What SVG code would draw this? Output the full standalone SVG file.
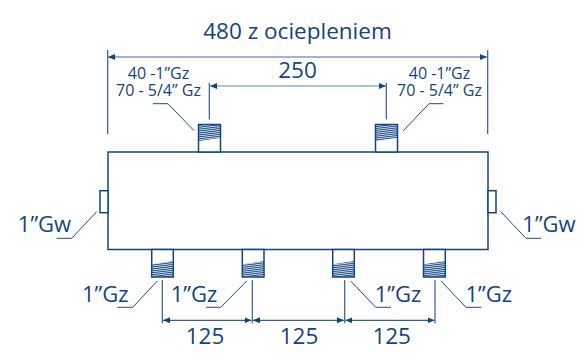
<svg xmlns="http://www.w3.org/2000/svg" width="588" height="360" viewBox="0 0 588 360">
<defs>
<marker id="a" markerUnits="userSpaceOnUse" markerWidth="8" markerHeight="6" refX="7" refY="3" orient="auto-start-reverse"><path d="M0 0L7 3L0 6Z" fill="#15437f"/></marker>
<pattern id="th" patternUnits="userSpaceOnUse" width="8" height="1.9" patternTransform="rotate(-7)"><rect width="8" height="1.15" fill="#1d4c88"/></pattern>
</defs>
<style>
text{font-family:"Open Sans","Noto Sans",sans-serif;fill:#15437f;text-anchor:middle}
.big{font-size:22.5px}.mid{font-size:22px}.sm{font-size:16px}
.l{fill:none;stroke:#1d4c88;stroke-width:1}
.b{fill:#fff;stroke:#15437f;stroke-width:1.5}
.e{stroke:#2f5c94;stroke-width:1.2;fill:none}
</style>
<g id="connectors">
<path class="e" d="M107.7 50V134M487.7 50V134"/>
<path d="M108 57H487" stroke="#7d9abf" stroke-width="1.6" fill="none" marker-start="url(#a)" marker-end="url(#a)"/>
<path class="e" d="M209.3 83V119.5M386.3 83V119.5"/>
<path d="M210 86H386" stroke="#5f83ae" stroke-width="1.2" fill="none" marker-start="url(#a)" marker-end="url(#a)"/>
<path class="l" d="M153 103.7H168L194 130.7M443.3 103.7H429L403.3 130.7"/>
<path class="l" d="M96.7 211.7L71.7 238.3H56.7M500.7 211.7L526 238.3H541"/>
<path class="l" d="M157.3 281L132.7 307.3H117.3M246.7 281L220.7 307.3H206M350.7 281L375.7 307.3H391M441 281L466 307.3H481.3"/>
<path class="e" d="M162.3 280V323.3M252.3 280V323.3M344.7 280V323.3M435 280V323.3"/>
<path d="M163 320.3H251.5" stroke="#2f5c94" stroke-width="1.2" fill="none" marker-start="url(#a)" marker-end="url(#a)"/>
<path d="M253 320.3H344" stroke="#2f5c94" stroke-width="1.2" fill="none" marker-start="url(#a)" marker-end="url(#a)"/>
<path d="M345.4 320.3H434.5" stroke="#2f5c94" stroke-width="1.2" fill="none" marker-start="url(#a)" marker-end="url(#a)"/>
</g>
<g id="body"><rect class="b" x="108" y="152" width="380" height="97.5"/></g>
<g id="port-left"><rect class="b" x="100" y="190.7" width="8" height="22"/></g>
<g id="port-right"><rect class="b" x="488" y="190.7" width="8" height="22"/></g>
<g id="nozzle-top-1"><rect class="b" x="198.5" y="124.5" width="22" height="27.5"/><path d="M199 125H220V138L199 141Z" fill="url(#th)"/></g>
<g id="nozzle-top-2"><rect class="b" x="375.5" y="124.5" width="22" height="27.5"/><path d="M376 125H397V138L376 141Z" fill="url(#th)"/></g>
<g id="nozzle-bottom-1"><rect class="b" x="151.7" y="249.5" width="21.6" height="27.5"/><path d="M152 264.3L173 261V277H152Z" fill="url(#th)"/></g>
<g id="nozzle-bottom-2"><rect class="b" x="242.3" y="249.5" width="21.7" height="27.5"/><path d="M243 264.3L264 261V277H243Z" fill="url(#th)"/></g>
<g id="nozzle-bottom-3"><rect class="b" x="332.7" y="249.5" width="21.6" height="27.5"/><path d="M333 264.3L354 261V277H333Z" fill="url(#th)"/></g>
<g id="nozzle-bottom-4"><rect class="b" x="423.5" y="249.5" width="21.8" height="27.5"/><path d="M424 264.3L445 261V277H424Z" fill="url(#th)"/></g>
<g id="labels">
<text class="big" x="297.5" y="39">480 z ociepleniem</text>
<text class="big" x="297.5" y="78">250</text>
<text class="sm" y="79"><tspan x="158.5">40 -1”Gz</tspan><tspan x="158.5" dy="17">70 - 5/4” Gz</tspan></text>
<text class="sm" y="79"><tspan x="439.5">40 -1”Gz</tspan><tspan x="439.5" dy="17">70 - 5/4” Gz</tspan></text>
<text class="mid" x="44.5" y="232.3">1”Gw</text>
<text class="mid" x="549" y="232.3">1”Gw</text>
<text class="mid" x="105.3" y="301.7">1”Gz</text>
<text class="mid" x="194" y="301.7">1”Gz</text>
<text class="mid" x="398" y="301.7">1”Gz</text>
<text class="mid" x="488.7" y="301.7">1”Gz</text>
<text class="big" x="205" y="344.3">125</text>
<text class="big" x="299" y="344.3">125</text>
<text class="big" x="391.7" y="344.3">125</text>
</g>
</svg>
